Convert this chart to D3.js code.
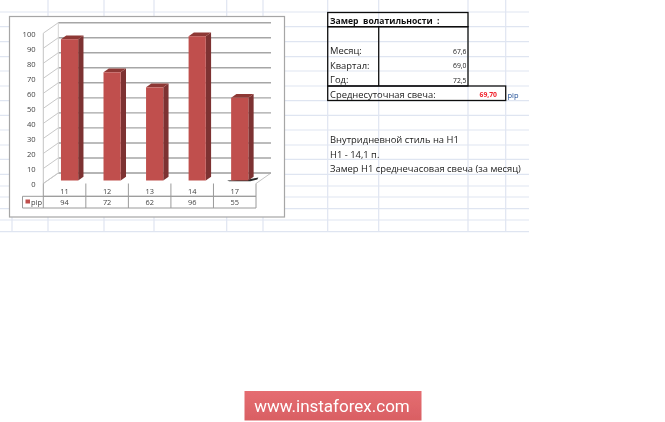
<!DOCTYPE html>
<html>
<head>
<meta charset="utf-8">
<style>
  html, body { margin: 0; padding: 0; background: #fff; }
  svg { display: block; }
  text { font-family: "Open Sans", sans-serif; }
</style>
<script src="https://cdn.jsdelivr.net/npm/d3@7/dist/d3.min.js"></script>
</head>
<body>
<div id="chart"></div>
<script>
// chart data
const categories = ["11", "12", "13", "14", "17"];
const pipValues = [94, 72, 62, 96, 55];
const seriesName = "pip";

// table on the right
const tableTitle = "Замер  волатильности  :";
const rowLabels = ["Месяц:", "Квартал:", "Год:"];
const rowValues = ["67,6", "69,0", "72,5"];
const avgLabel = "Среднесуточная свеча:";
const avgValue = "69,70";
const notes = ["Внутридневной стиль на H1", "H1 - 14,1 п.", "Замер H1 среднечасовая свеча (за месяц)"];

// sheet grid lines
const sheetRows = [12, 26.7, 41.7, 56.7, 71, 86, 100.7, 115.3, 130, 145, 159.3, 174.3, 186, 197, 208.7, 220, 231.7];
const sheetCols = [48, 104, 154, 226.7, 263, 327.7, 378.7, 468, 505.7];

const width = 665, height = 422;
const root = d3.select("#chart").append("svg").attr("width", width).attr("height", height);

// the screenshot is a bit soft
root.append("defs").append("filter").attr("id", "soft")
    .attr("x", 0).attr("y", 0).attr("width", 1).attr("height", 1)
    .attr("filterUnits", "objectBoundingBox")
    .append("feGaussianBlur").attr("stdDeviation", 0.35);
root.append("rect").attr("width", width).attr("height", height).attr("fill", "#fff");
const svg = root.append("g").attr("filter", "url(#soft)");
svg.append("rect").attr("width", width).attr("height", height).attr("fill", "#fff");

// spreadsheet background
svg.append("g").selectAll("line").data(sheetRows).enter().append("line")
    .attr("x1", 0).attr("x2", 529).attr("y1", d => d).attr("y2", d => d)
    .attr("stroke", "#dfe5f1").attr("stroke-width", 1.2);
svg.append("g").selectAll("line").data(sheetCols).enter().append("line")
    .attr("x1", d => d).attr("x2", d => d).attr("y1", 0).attr("y2", 231.7)
    .attr("stroke", "#dfe5f1").attr("stroke-width", 1.2);
svg.append("line").attr("x1", 12).attr("x2", 12).attr("y1", 217).attr("y2", 231.7)
    .attr("stroke", "#dfe5f1").attr("stroke-width", 1.2);

// chart frame
svg.append("rect").attr("x", 9.5).attr("y", 16.5).attr("width", 275).attr("height", 200.5)
    .attr("fill", "#fff").attr("stroke", "#a6a6a6").attr("stroke-width", 1.2);

const x = d3.scaleBand().domain(categories).range([43.3, 256]);
const y = d3.scaleLinear().domain([0, 100]).range([183.5, 33.2]);
const depthX = 15, depthY = -10.5;   // floor depth of the 3d box
const gridTicks = y.ticks(10);

// floor and walls
const x0 = x.range()[0], x1 = x.range()[1];
svg.append("path")
    .attr("d", `M${x0},${y(0)}L${x0 + depthX},${y(0) + depthY}L${x1 + depthX},${y(0) + depthY}L${x1},${y(0)}`)
    .attr("fill", "#fff").attr("stroke", "#c4c4c4").attr("stroke-width", 1);

svg.append("g").selectAll("path").data(gridTicks).enter().append("path")
    .attr("d", d => `M${x0},${y(d)}L${x0 + depthX},${y(d) + depthY}`)
    .attr("fill", "none").attr("stroke", "#c8c8c8").attr("stroke-width", 1);
svg.append("g").selectAll("line").data(gridTicks).enter().append("line")
    .attr("x1", x0 + depthX).attr("x2", x1 + depthX)
    .attr("y1", d => y(d) + depthY).attr("y2", d => y(d) + depthY)
    .attr("stroke", "#a6a6a6").attr("stroke-width", 1.4);
svg.append("line").attr("x1", x0).attr("x2", x0).attr("y1", y(100)).attr("y2", y(0))
    .attr("stroke", "#c4c4c4");
svg.append("line").attr("x1", x0 + depthX).attr("x2", x0 + depthX)
    .attr("y1", y(100) + depthY).attr("y2", y(0) + depthY).attr("stroke", "#d4d4d4");

// value axis
const yAxis = d3.axisLeft(y).tickValues(gridTicks).tickSize(0).tickPadding(7.7);
const yG = svg.append("g").attr("transform", `translate(${x0},1)`).call(yAxis);
yG.select(".domain").remove();
yG.selectAll("text").attr("font-size", 7.6).attr("fill", "#444");

// bars
const barW = 17.2, barDx = 5.3, barDy = -3.8, barBase = y(0) - 3;
const barH = d3.scaleLinear().domain([0, 100]).range([0, y(0) - y(100)]);
const barX = d => x(d) + x.bandwidth() / 2 + 5 - barW / 2;

// dark smudge under the zero base of the last bar
const lastCat = categories[categories.length - 1];
svg.append("path")
    .attr("d", `M${barX(lastCat) - 4},${barBase}L${barX(lastCat) + barW},${barBase - 1}L${barX(lastCat) + barW + 10},${barBase - 3}L${barX(lastCat) + barW + 9},${barBase - 1}L${barX(lastCat) + barW + 2},${barBase + 0.8}L${barX(lastCat) - 2},${barBase + 0.8}Z`)
    .attr("fill", "#2b2b2b");

const bars = svg.append("g").selectAll("g").data(pipValues).enter().append("g");
// side
bars.append("path")
    .attr("d", (d, i) => {
        const l = barX(categories[i]) + barW, t = barBase - barH(d);
        return `M${l},${t}L${l + barDx},${t + barDy}L${l + barDx},${barBase + barDy}L${l},${barBase}Z`;
    })
    .attr("fill", "#7d3230");
// top
bars.append("path")
    .attr("d", (d, i) => {
        const l = barX(categories[i]), t = barBase - barH(d);
        return `M${l},${t}L${l + barDx},${t + barDy}L${l + barW + barDx},${t + barDy}L${l + barW},${t}Z`;
    })
    .attr("fill", "#8e3835");
// front
bars.append("rect")
    .attr("x", (d, i) => barX(categories[i]))
    .attr("y", d => barBase - barH(d))
    .attr("width", barW)
    .attr("height", d => barH(d))
    .attr("fill", "#c0504d");

// data table under the chart
const tableTop = y(0), rowMid = 196.3, tableBottom = 208;
const legendLeft = 22.5;
const tableG = svg.append("g").attr("stroke", "#9a9a9a").attr("stroke-width", 1);
[[x0, x1, rowMid], [legendLeft, x1, rowMid], [legendLeft, x1, tableBottom]].forEach(r => {
    tableG.append("line").attr("x1", r[0]).attr("x2", r[1]).attr("y1", r[2]).attr("y2", r[2]);
});
tableG.selectAll(".cell").data(categories).enter().append("line")
    .attr("class", "cell")
    .attr("x1", d => x(d)).attr("x2", d => x(d)).attr("y1", tableTop).attr("y2", tableBottom);
tableG.append("line").attr("x1", x1).attr("x2", x1).attr("y1", tableTop).attr("y2", tableBottom);
tableG.append("line").attr("x1", legendLeft).attr("x2", legendLeft).attr("y1", rowMid).attr("y2", tableBottom);

svg.append("g").selectAll("text").data(categories).enter().append("text")
    .attr("x", d => x(d) + x.bandwidth() / 2).attr("y", 194)
    .attr("text-anchor", "middle").attr("font-size", 7.4).attr("fill", "#444").text(d => d);
svg.append("g").selectAll("text").data(pipValues).enter().append("text")
    .attr("x", (d, i) => x(categories[i]) + x.bandwidth() / 2).attr("y", 205)
    .attr("text-anchor", "middle").attr("font-size", 7.4).attr("fill", "#444").text(d => d);
svg.append("rect").attr("x", 25.5).attr("y", 199.5).attr("width", 4.5).attr("height", 4).attr("fill", "#c0504d");
svg.append("text").attr("x", 31).attr("y", 205).attr("font-size", 7.5).attr("fill", "#444").text(seriesName);

// volatility table
const textCol = "#222";
const boxes = svg.append("g").attr("fill", "none").attr("stroke", "#111").attr("stroke-width", 1.3);
boxes.append("rect").attr("x", 327.7).attr("y", 12.5).attr("width", 140.3).attr("height", 14.2);
boxes.append("rect").attr("x", 327.7).attr("y", 26.7).attr("width", 140.3).attr("height", 59.3);
boxes.append("line").attr("x1", 378.7).attr("x2", 378.7).attr("y1", 26.7).attr("y2", 86);
boxes.append("rect").attr("x", 327.7).attr("y", 86).attr("width", 178).attr("height", 14.5);

svg.append("text").attr("x", 330).attr("y", 24).attr("font-size", 8.6).attr("font-weight", 700)
    .attr("fill", "#111").style("white-space", "pre").text(tableTitle);
svg.append("g").selectAll("text").data(rowLabels).enter().append("text")
    .attr("x", 330).attr("y", (d, i) => 54 + i * 14.6).attr("font-size", 9.4).attr("fill", textCol).text(d => d);
svg.append("g").selectAll("text").data(rowValues).enter().append("text")
    .attr("x", 466.5).attr("y", (d, i) => 53.7 + i * 14.6).attr("text-anchor", "end")
    .attr("font-size", 6.8).attr("fill", textCol).text(d => d);
svg.append("text").attr("x", 330).attr("y", 97.5).attr("font-size", 9.4).attr("fill", textCol).text(avgLabel);
svg.append("text").attr("x", 497).attr("y", 97).attr("text-anchor", "end").attr("font-size", 6.8)
    .attr("font-weight", 700).attr("fill", "#f0202a").text(avgValue);
svg.append("text").attr("x", 507.5).attr("y", 97.5).attr("font-size", 7.5).attr("fill", "#1f4e96").text(seriesName);

svg.append("g").selectAll("text").data(notes).enter().append("text")
    .attr("x", 330).attr("y", (d, i) => 143 + i * 14.6).attr("font-size", 9.4).attr("fill", textCol).text(d => d);

// banner
const grad = root.select("defs").append("linearGradient").attr("id", "bannerFill")
    .attr("x1", 0).attr("x2", 0).attr("y1", 0).attr("y2", 1);
grad.append("stop").attr("offset", "0%").attr("stop-color", "#e56d71");
grad.append("stop").attr("offset", "100%").attr("stop-color", "#d95f63");
svg.append("rect").attr("x", 244.5).attr("y", 391).attr("width", 177).attr("height", 29.5)
    .attr("fill", "url(#bannerFill)");
svg.append("text").attr("x", 332).attr("y", 412).attr("text-anchor", "middle")
    .style("font-family", "Roboto, sans-serif")
    .attr("font-size", 17).attr("fill", "#fff").text("www.instaforex.com");
</script>
</body>
</html>
